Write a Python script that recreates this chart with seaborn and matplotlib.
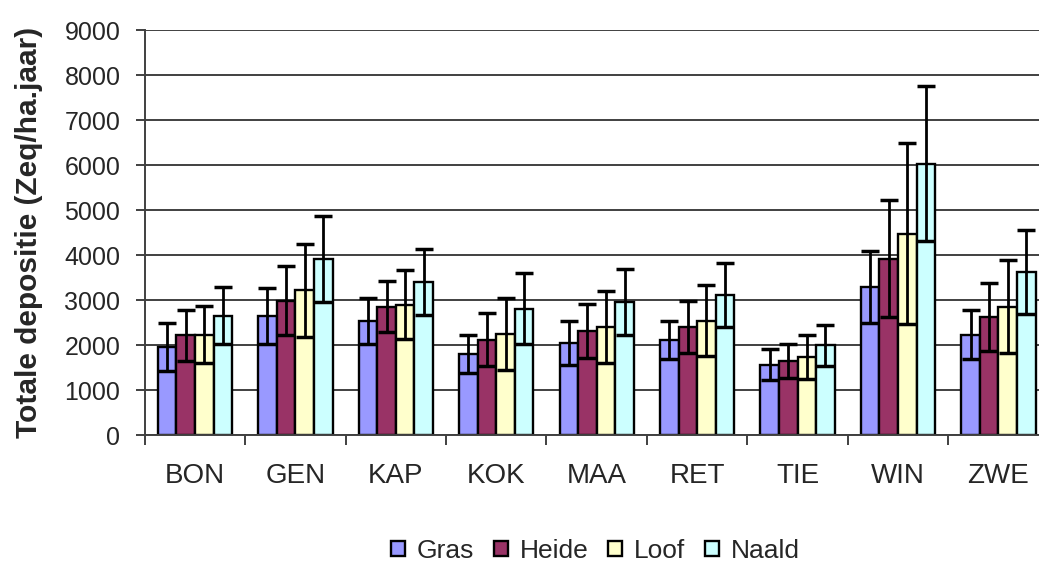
import matplotlib
matplotlib.use("Agg")
import matplotlib.pyplot as plt
import seaborn as sns
import pandas as pd
import numpy as np

categories = ["BON", "GEN", "KAP", "KOK", "MAA", "RET", "TIE", "WIN", "ZWE"]
series_names = ["Gras", "Heide", "Loof", "Naald"]
gras = [1970, 2650, 2550, 1810, 2050, 2120, 1570, 3290, 2240]
heide = [2220, 2990, 2860, 2120, 2310, 2400, 1650, 3920, 2630]
loof = [2240, 3220, 2900, 2250, 2410, 2550, 1750, 4480, 2860]
naald = [2660, 3920, 3410, 2810, 2960, 3120, 2000, 6040, 3630]
gras_err = [530, 615, 510, 430, 480, 430, 345, 800, 550]
heide_err = [570, 770, 560, 590, 600, 580, 370, 1300, 750]
loof_err = [640, 1040, 765, 805, 800, 790, 490, 2015, 1035]
naald_err = [640, 960, 740, 790, 730, 710, 450, 1715, 935]
yticks = [0, 1000, 2000, 3000, 4000, 5000, 6000, 7000, 8000, 9000]
ylabel = "Totale depositie (Zeq/ha.jaar)"

colors = ["#9999FF", "#993366", "#FFFFCC", "#CCFFFF"]
values = [gras, heide, loof, naald]
errors = [gras_err, heide_err, loof_err, naald_err]

rows = []
for name, vals in zip(series_names, values):
    for c, v in zip(categories, vals):
        rows.append({"cat": c, "type": name, "val": v})
df = pd.DataFrame(rows)

sns.set_style("white")
plt.rcParams["font.family"] = ["Liberation Sans", "DejaVu Sans"]

fig = plt.figure(figsize=(10.39, 5.63), dpi=100)
ax = fig.add_axes([144.7 / 1039, 127.7 / 563, 904 / 1039, 405 / 563])

sns.barplot(data=df, x="cat", y="val", hue="type", order=categories,
            hue_order=series_names, palette=colors, width=0.74, gap=0,
            edgecolor="black", linewidth=1.7, errorbar=None, ax=ax,
            saturation=1, legend=True)

for cont, errs in zip(ax.containers, errors):
    xs = [p.get_x() + p.get_width() / 2 for p in cont.patches]
    hs = [p.get_height() for p in cont.patches]
    ax.errorbar(xs, hs, yerr=errs, fmt="none", ecolor="black",
                elinewidth=2.0, capsize=6.3, capthick=2.5, zorder=5)

ax.set_ylim(0, 9000)
ax.set_xlim(-0.5, len(categories) - 0.5)
ax.set_yticks(yticks)
ax.set_yticklabels([str(t) for t in yticks], fontsize=18)
ax.yaxis.grid(True, color="#404040", linewidth=1.4)
ax.set_axisbelow(True)

ax.set_xticks(np.arange(-0.5, len(categories), 1.0))
ax.set_xticklabels([])
ax.set_xticks(np.arange(len(categories)), minor=True)
ax.set_xticklabels(categories, minor=True, fontsize=20)
ax.tick_params(axis="x", which="major", direction="out", length=7.5,
               width=1.4, color="#404040", bottom=True)
ax.tick_params(axis="x", which="minor", length=0, pad=20, bottom=True)
ax.tick_params(axis="y", direction="out", length=6.5, width=1.4,
               color="#404040", left=True, pad=11)

for s in ["top", "right"]:
    ax.spines[s].set_visible(False)
for s in ["left", "bottom"]:
    ax.spines[s].set_color("#404040")
    ax.spines[s].set_linewidth(1.4)

ax.set_xlabel("")
ax.set_ylabel(ylabel, fontsize=21.5, fontweight="bold")
ax.yaxis.set_label_coords(-0.112, 0.5)

handles, labels = ax.get_legend_handles_labels()
ax.get_legend().remove()
fig.legend(handles, labels, loc="center", bbox_to_anchor=(0.573, 0.022),
           ncol=4, frameon=False, fontsize=19, handlelength=0.52,
           handleheight=0.52, handletextpad=0.45, columnspacing=0.75,
           borderaxespad=0)

fig.savefig("out.png", dpi=100)
